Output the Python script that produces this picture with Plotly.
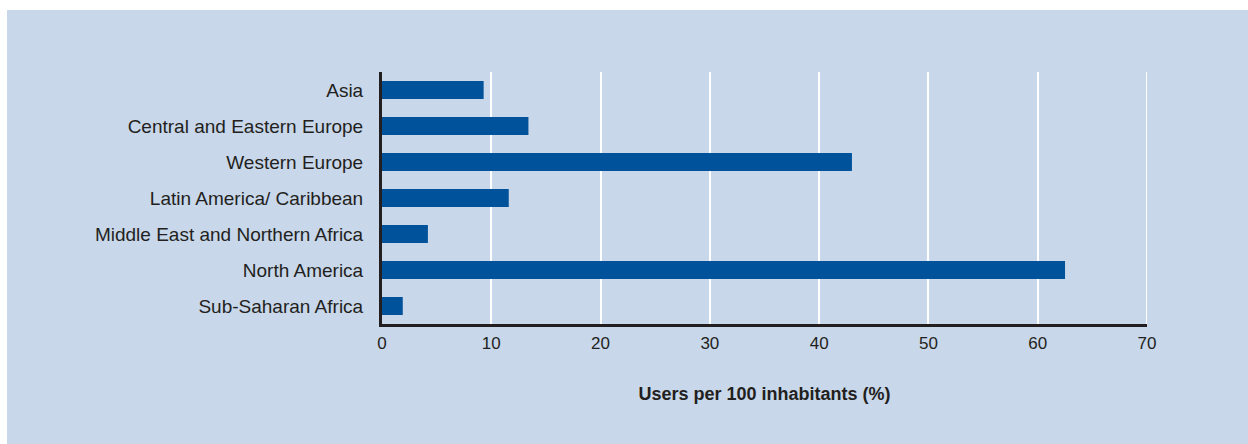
import plotly.graph_objects as go

# Internet users per 100 inhabitants by region
regions = [
    "Asia",
    "Central and Eastern Europe",
    "Western Europe",
    "Latin America/ Caribbean",
    "Middle East and Northern Africa",
    "North America",
    "Sub-Saharan Africa",
]
users_per_100 = [9.3, 13.4, 43.0, 11.6, 4.2, 62.5, 1.9]
x_ticks = [0, 10, 20, 30, 40, 50, 60, 70]

W, H = 1248, 444
ML, MR, MT, MB = 382, 101, 72, 120
PW, PH = W - ML - MR, H - MT - MB

PANEL = "#c8d7ea"
BAR = "#00529b"
INK = "#231f20"
FONT = "Liberation Sans Narrow, Arial Narrow, sans-serif"

fig = go.Figure(
    go.Bar(
        x=users_per_100,
        y=regions,
        orientation="h",
        marker=dict(color=BAR, line=dict(width=0)),
        width=0.5,
    )
)

# light-blue panel behind the chart, inset from the top and left page edge
fig.add_shape(
    type="rect",
    xref="paper",
    yref="paper",
    x0=(7 - ML) / PW,
    x1=(W - ML) / PW,
    y0=-(MB + 2) / PH,
    y1=(PH + MT - 10) / PH,
    fillcolor=PANEL,
    line=dict(width=0),
    layer="below",
)

# gridline at the upper end of the value axis
fig.add_shape(
    type="line",
    xref="x",
    yref="paper",
    x0=x_ticks[-1],
    x1=x_ticks[-1],
    y0=0,
    y1=1,
    line=dict(color="white", width=2),
    layer="below",
)

fig.update_layout(
    width=W,
    height=H,
    margin=dict(l=ML, r=MR, t=MT, b=MB, pad=0),
    paper_bgcolor="white",
    plot_bgcolor="rgba(0,0,0,0)",
    showlegend=False,
    font=dict(family=FONT, color=INK),
    bargap=0.5,
)

fig.update_xaxes(
    range=[0, 70],
    tickvals=x_ticks,
    ticktext=[str(v) for v in x_ticks],
    tickfont=dict(size=17, color=INK),
    ticks="outside",
    ticklen=2,
    tickcolor="rgba(0,0,0,0)",
    showgrid=True,
    gridcolor="white",
    gridwidth=2,
    zeroline=False,
    showline=True,
    linecolor=INK,
    linewidth=3,
    title=dict(
        text="<b>Users per 100 inhabitants (%)</b>",
        font=dict(size=18, color=INK),
        standoff=35,
    ),
)

fig.update_yaxes(
    categoryorder="array",
    categoryarray=regions,
    range=[6.5, -0.5],
    tickfont=dict(size=19, color=INK),
    ticks="outside",
    ticklen=12,
    tickcolor="rgba(0,0,0,0)",
    showgrid=False,
    zeroline=False,
    showline=True,
    linecolor=INK,
    linewidth=3,
)

fig.write_html("out.html")
